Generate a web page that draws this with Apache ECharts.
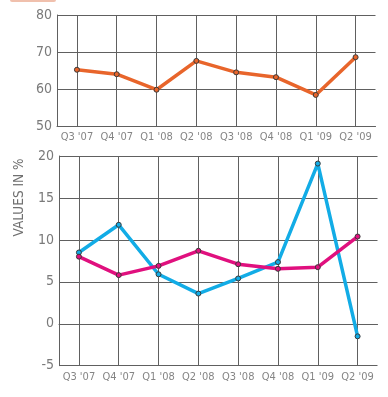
<!DOCTYPE html>
<html><head><meta charset="utf-8">
<script src="https://cdn.jsdelivr.net/npm/echarts@6/dist/echarts.min.js"></script>
<style>html,body{margin:0;padding:0;background:#fff}#c{width:388px;height:397px}</style>
</head><body><div id="c"></div>
<script>
var categories = ["Q3 '07","Q4 '07","Q1 '08","Q2 '08","Q3 '08","Q4 '08","Q1 '09","Q2 '09"];
var topValues = [65.2, 64.0, 59.8, 67.6, 64.5, 63.2, 58.4, 68.6];
var blueValues = [8.5, 11.8, 5.9, 3.6, 5.4, 7.35, 19.1, -1.5];
var magentaValues = [8.0, 5.8, 6.9, 8.7, 7.1, 6.55, 6.75, 10.4];
var yTitle = "VALUES IN %";

var FONT = "'DejaVu Sans Condensed', 'Liberation Sans Narrow', sans-serif";
var gridColor = '#606060';
function xAxis(gi){
  return {type:'category', gridIndex:gi, data:categories, boundaryGap:true,
    axisLine:{lineStyle:{color:gridColor,width:1}}, axisTick:{show:false},
    axisLabel:{color:'#858585', fontSize:11, fontFamily:FONT, margin:6, interval:0},
    splitLine:{show:true, alignWithLabel:true, lineStyle:{color:gridColor,width:1}}};
}
function yAxis(gi,min,max,interval){
  return {type:'value', gridIndex:gi, min:min, max:max, interval:interval,
    axisLine:{show:true,lineStyle:{color:gridColor,width:1}}, axisTick:{show:false},
    axisLabel:{color:'#7a7a7a', fontSize:14, fontFamily:FONT, margin:5},
    splitLine:{show:true,lineStyle:{color:gridColor,width:1}}};
}
function line(name,gi,data,color){
  return {name:name,type:'line',xAxisIndex:gi,yAxisIndex:gi,data:data,
    symbol:'circle',symbolSize:5,showSymbol:true,
    lineStyle:{color:color,width:3.5},
    itemStyle:{color:color,borderColor:'#3a3a3a',borderWidth:1},
    emphasis:{disabled:true}, animation:false};
}
var chart = echarts.init(document.getElementById('c'));
chart.setOption({
  backgroundColor:'#fff',
  animation:false,
  grid:[{left:57,top:15,right:12.5,height:111,containLabel:false},
        {left:59,top:156,right:10.5,height:209.7,containLabel:false}],
  xAxis:[xAxis(0),xAxis(1)],
  yAxis:[yAxis(0,50,80,10),yAxis(1,-5,20,5)],
  series:[line('top',0,topValues,'#E8652B'),
          line('blue',1,blueValues,'#12ACE6'),
          line('magenta',1,magentaValues,'#E0107E')],
  graphic:[
    {type:'rect',left:10,top:-2,shape:{width:46,height:4,r:2},style:{fill:'#E9A58A',opacity:0.7},silent:true},
    {type:'text',x:19,y:197.5,rotation:Math.PI/2,style:{text:yTitle,fill:'#707070',fontSize:13.5,fontFamily:FONT,align:'center',verticalAlign:'middle'}}
  ]
});
</script></body></html>
